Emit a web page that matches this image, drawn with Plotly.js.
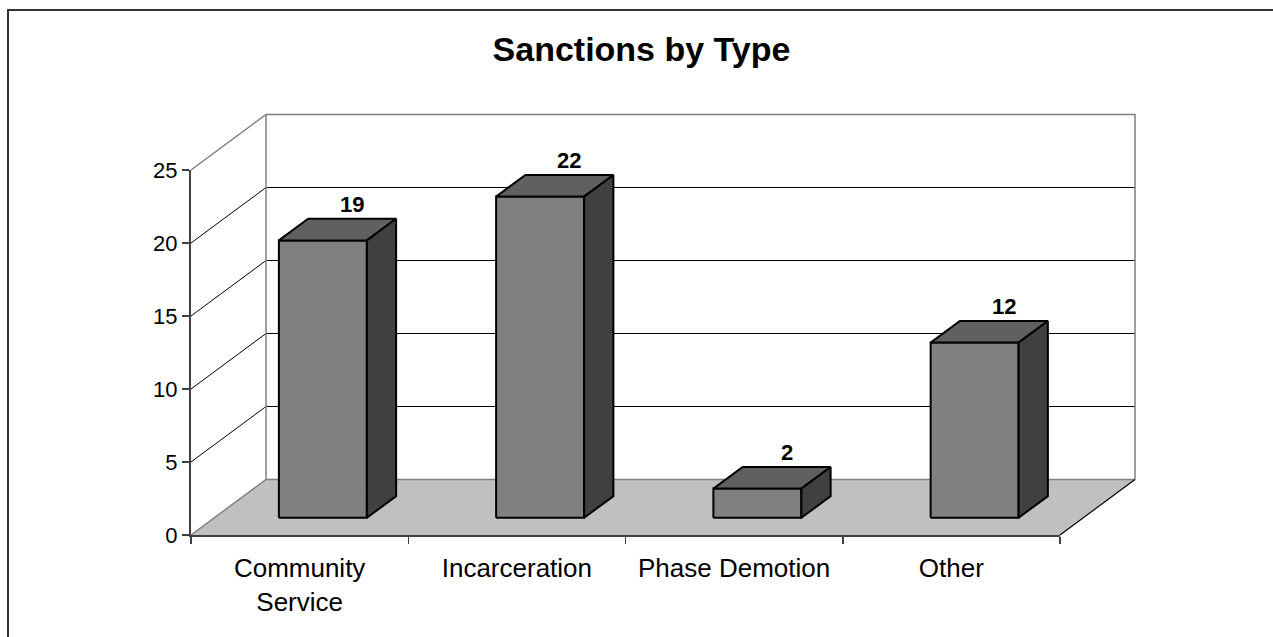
<!DOCTYPE html>
<html>
<head>
<meta charset="utf-8">
<script src="https://cdn.plot.ly/plotly-3.0.1.min.js"></script>
<style>
  html, body { margin: 0; padding: 0; background: #ffffff; }
  #chart { width: 1273px; height: 637px; }
</style>
</head>
<body>
<div id="chart"></div>
<script>
// ---- data ----
const categories = ["Community Service", "Incarceration", "Phase Demotion", "Other"];
const tickLabels = ["Community<br>Service", "Incarceration", "Phase Demotion", "Other"];
const values = [19, 22, 2, 12];
const yTickValues = [0, 5, 10, 15, 20, 25];
const chartTitle = "Sanctions by Type";

// ---- 3D projection settings (in axis units) ----
const W = 1273, H = 637;
const PX_X = 217.25;            // pixels per category
const PX_Y = 14.6;              // pixels per value unit
const X0PX = 191, Y0PX = 535;   // pixel of front origin
const DX = 75 / PX_X;           // depth shift in x (category units)
const DY = 55.5 / PX_Y;         // depth shift in y (value units)
const YMAX = 25;
const NCAT = categories.length;
const d0 = 0.31, d1 = 0.70, bw = 0.405;

const traces = [];
function poly(xs, ys, fill, lineColor, lineWidth) {
  const t = {
    type: 'scatter', mode: 'lines', x: xs, y: ys,
    xaxis: 'x', yaxis: 'y', hoverinfo: 'skip', showlegend: false,
    line: { color: lineColor, width: lineWidth }
  };
  if (fill) { t.fill = 'toself'; t.fillcolor = fill; }
  traces.push(t);
}

// walls
poly([DX, NCAT + DX, NCAT + DX, DX, DX], [DY, DY, YMAX + DY, YMAX + DY, DY], '#ffffff', 'rgba(0,0,0,0)', 0);
// floor
poly([0, NCAT, NCAT + DX, DX, 0], [0, 0, DY, DY, 0], '#c0c0c0', 'rgba(0,0,0,0)', 0);
// gridlines (black) on side and back wall
yTickValues.forEach(v => {
  if (v > 0 && v < YMAX) {
    poly([0, DX, NCAT + DX], [v, v + DY, v + DY], null, '#000000', 1);
  }
});
// gray wall edges
poly([0, DX, NCAT + DX, NCAT + DX], [YMAX, YMAX + DY, YMAX + DY, DY], null, '#808080', 1.5);
poly([DX, DX], [DY, YMAX + DY], null, '#808080', 1.5);
poly([0, DX, NCAT + DX], [0, DY, DY], null, '#808080', 1.5);
// floor right edge
poly([NCAT, NCAT + DX], [0, DY], null, '#000000', 1.2);

// bars
values.forEach((v, i) => {
  const xl = i + 0.5 - bw / 2, xr = i + 0.5 + bw / 2;
  const fx = d0 * DX, fy = d0 * DY, bx = d1 * DX, by = d1 * DY;
  // front
  poly([xl + fx, xr + fx, xr + fx, xl + fx, xl + fx], [fy, fy, v + fy, v + fy, fy], '#808080', '#000000', 2);
  // top
  poly([xl + fx, xr + fx, xr + bx, xl + bx, xl + fx], [v + fy, v + fy, v + by, v + by, v + fy], '#606060', '#000000', 2);
  // side
  poly([xr + fx, xr + bx, xr + bx, xr + fx, xr + fx], [fy, by, v + by, v + fy, fy], '#404040', '#000000', 2);
});

// axis frame subplot (invisible marks to carry axes)
traces.push({
  type: 'scatter', mode: 'markers', x: categories, y: values,
  xaxis: 'x2', yaxis: 'y2', marker: { opacity: 0 }, hoverinfo: 'skip', showlegend: false
});

const font = 'Arial, Liberation Sans, sans-serif';
const annotations = values.map((v, i) => ({
  x: i + 0.5 + d1 * DX, y: v + d1 * DY, xref: 'x', yref: 'y',
  text: '<b>' + v + '</b>', showarrow: false, yanchor: 'bottom', yshift: 0,
  font: { family: font, size: 22, color: '#000000' }
}));

const layout = {
  width: W, height: H,
  margin: { l: 0, r: 0, t: 0, b: 0, pad: 0 },
  paper_bgcolor: '#ffffff', plot_bgcolor: 'rgba(0,0,0,0)',
  showlegend: false,
  title: {
    text: chartTitle, x: 641.5 / W, xref: 'container', xanchor: 'center',
    y: 1 - 49 / H, yref: 'container', yanchor: 'middle',
    font: { family: font, size: 34, color: '#000000', weight: 'bold' }
  },
  xaxis: { visible: false, range: [(0 - X0PX) / PX_X, (W - X0PX) / PX_X], fixedrange: true },
  yaxis: { visible: false, range: [(Y0PX - H) / PX_Y, Y0PX / PX_Y], fixedrange: true },
  xaxis2: {
    type: 'category', categoryorder: 'array', categoryarray: categories,
    tickvals: categories, ticktext: tickLabels,
    range: [-0.5, NCAT - 0.5], domain: [X0PX / W, (X0PX + NCAT * PX_X) / W],
    anchor: 'y2', tickson: 'boundaries', ticks: 'outside', ticklen: 7, tickwidth: 1.5,
    tickcolor: '#404040', showline: true, linecolor: '#404040', linewidth: 2,
    showgrid: false, zeroline: false, automargin: false, fixedrange: true,
    ticklabelstandoff: 9,
    tickfont: { family: font, size: 26, color: '#000000' }
  },
  yaxis2: {
    range: [0, YMAX], domain: [(H - Y0PX) / H, (H - Y0PX + YMAX * PX_Y) / H],
    anchor: 'x2', tickvals: yTickValues, ticktext: yTickValues.map(String),
    ticks: 'outside', ticklen: 7, tickwidth: 1.5, tickcolor: '#404040',
    showline: true, linecolor: '#404040', linewidth: 2,
    showgrid: false, zeroline: false, automargin: false, fixedrange: true,
    tickfont: { family: font, size: 22, color: '#000000' }
  },
  annotations: annotations,
  shapes: [{
    type: 'rect', xref: 'paper', yref: 'paper',
    x0: 8 / W, x1: 1.05, y0: -0.05, y1: 1 - 10 / H,
    line: { color: '#333333', width: 2 }, fillcolor: 'rgba(0,0,0,0)', layer: 'above'
  }]
};

Plotly.newPlot('chart', traces, layout, { displayModeBar: false, staticPlot: true });
</script>
</body>
</html>
